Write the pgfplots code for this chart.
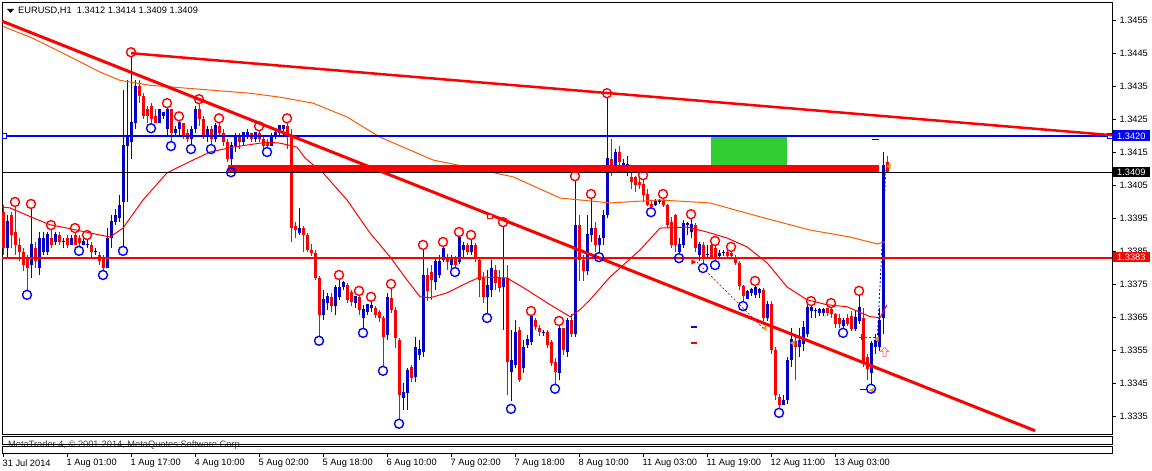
\documentclass[border=0pt]{standalone}
\usepackage{pgfplots}
\pgfplotsset{compat=1.18}
\usepackage{pgfplotstable}
\usepackage{fontspec}
\setmainfont{Liberation Sans}
\definecolor{cblue}{RGB}{0,0,200}
\definecolor{lblue}{RGB}{0,0,255}
\definecolor{cred}{RGB}{255,0,0}
\definecolor{maorange}{RGB}{255,90,0}
\definecolor{lgreen}{RGB}{50,205,50}
\definecolor{tri}{RGB}{225,160,40}
\newcommand\fs{\fontsize{9.3}{10}\selectfont}

\pgfplotstableread{
i o h l c
0 1.3397 1.3399 1.3384 1.3386
1 1.3386 1.3396 1.3383 1.3394
2 1.3396 1.3397 1.3386 1.3390
3 1.3391 1.33985 1.3384 1.3387
4 1.3387 1.3389 1.3382 1.3385
5 1.3385 1.3386 1.3379 1.3381
6 1.3383 1.3384 1.33734 1.3380
7 1.3381 1.3398 1.3377 1.3387
8 1.3386 1.3388 1.3380 1.3382
9 1.3380 1.3391 1.3378 1.3389
10 1.3385 1.3391 1.3384 1.3389
11 1.3385 1.3391 1.3384 1.3390
12 1.3389 1.33915 1.3386 1.3387
13 1.3388 1.3391 1.3387 1.3390
14 1.3390 1.3391 1.3387 1.3388
15 1.3388 1.3389 1.3386 1.3388
16 1.3389 1.3390 1.3386 1.3387
17 1.3387 1.3390 1.3387 1.3389
18 1.3390 1.3391 1.3387 1.3387
19 1.3389 1.3390 1.33867 1.33875
20 1.3387 1.3389 1.3387 1.3388
21 1.3387 1.33885 1.3386 1.3387
22 1.3387 1.3388 1.3383 1.3385
23 1.3385 1.3386 1.3384 1.3385
24 1.3384 1.3385 1.3381 1.3382
25 1.3383 1.3384 1.33794 1.3380
26 1.3380 1.3392 1.3380 1.3389
27 1.3389 1.3396 1.3386 1.3394
28 1.3394 1.3398 1.3393 1.3396
29 1.3395 1.3402 1.3394 1.3399
30 1.3400 1.3434 1.33867 1.3417
31 1.3417 1.3437 1.3400 1.3420
32 1.3418 1.34438 1.3413 1.3424
33 1.3424 1.3437 1.3422 1.3435
34 1.3435 1.3437 1.3430 1.3432
35 1.3432 1.3433 1.3425 1.3426
36 1.3428 1.3429 1.3424 1.3426
37 1.3429 1.3430 1.34238 1.3425
38 1.3426 1.3428 1.3424 1.3424
39 1.3424 1.3428 1.3424 1.3428
40 1.3426 1.3427 1.3425 1.3427
41 1.3422 1.34283 1.3420 1.3428
42 1.3428 1.3428 1.34184 1.3421
43 1.3421 1.3423 1.3420 1.3422
44 1.3422 1.34244 1.3420 1.3424
45 1.3424 1.3424 1.3419 1.3420
46 1.3421 1.3422 1.3418 1.3419
47 1.3419 1.3423 1.34175 1.3422
48 1.3422 1.3429 1.3421 1.3428
49 1.3428 1.34296 1.3423 1.3425
50 1.3425 1.3426 1.3419 1.3420
51 1.3420 1.3423 1.3418 1.3422
52 1.3422 1.3423 1.34175 1.3419
53 1.3419 1.3424 1.3418 1.3423
54 1.3423 1.34238 1.3420 1.3421
55 1.3421 1.3422 1.3417 1.3418
56 1.3418 1.3419 1.3412 1.3413
57 1.3413 1.3418 1.34105 1.3417
58 1.3417 1.3421 1.3415 1.3420
59 1.3420 1.3421 1.3416 1.3418
60 1.3418 1.3421 1.3417 1.3421
61 1.3420 1.3422 1.3419 1.3421
62 1.3421 1.3421 1.3418 1.3419
63 1.3419 1.3421 1.3418 1.3421
64 1.3421 1.34214 1.3418 1.3419
65 1.3419 1.3420 1.3416 1.3417
66 1.3418 1.3419 1.34166 1.3417
67 1.3417 1.3421 1.3417 1.3420
68 1.3420 1.3422 1.3419 1.3421
69 1.3421 1.3423 1.3420 1.3423
70 1.3422 1.3423 1.3420 1.3423
71 1.3423 1.34238 1.3416 1.3420
72 1.3420 1.3422 1.3388 1.3392
73 1.33926 1.33939 1.33890 1.33914
74 1.33905 1.33981 1.33899 1.33920
75 1.33920 1.33926 1.33848 1.33899
76 1.33899 1.33905 1.33848 1.33854
77 1.33854 1.33872 1.33836 1.33845
78 1.33845 1.33854 1.33763 1.33769
79 1.33769 1.33775 1.33594 1.33658
80 1.33658 1.33733 1.33643 1.33703
81 1.33694 1.33724 1.33673 1.33712
82 1.33712 1.33724 1.33667 1.33685
83 1.33685 1.33748 1.33658 1.33742
84 1.33712 1.33764 1.33703 1.33742
85 1.33742 1.33760 1.33733 1.33755
86 1.33748 1.33754 1.33694 1.33703
87 1.33727 1.33733 1.33685 1.33697
88 1.33694 1.33715 1.33679 1.33712
89 1.33712 1.33718 1.33658 1.33673
90 1.33649 1.33688 1.33618 1.33673
91 1.33667 1.33691 1.33658 1.33688
92 1.33679 1.33697 1.33667 1.33685
93 1.33679 1.33685 1.33649 1.33658
94 1.33667 1.33673 1.33637 1.33649
95 1.33649 1.33655 1.33504 1.33591
96 1.33597 1.33724 1.33582 1.33709
97 1.33709 1.33736 1.33664 1.33673
98 1.33673 1.33682 1.33558 1.33588
99 1.33582 1.33588 1.33343 1.33416
100 1.33407 1.33452 1.33370 1.33422
101 1.33422 1.33497 1.33370 1.33491
102 1.33501 1.33507 1.33455 1.33467
103 1.33470 1.33591 1.33455 1.33558
104 1.33537 1.33582 1.33521 1.33552
105 1.33546 1.33854 1.33531 1.33778
106 1.33778 1.33800 1.33700 1.33730
107 1.33788 1.33808 1.33703 1.33763
108 1.33757 1.33830 1.33733 1.33818
109 1.33778 1.33839 1.33769 1.33818
110 1.33824 1.33863 1.33818 1.33860
111 1.33833 1.33842 1.33793 1.33818
112 1.33808 1.33839 1.33799 1.33830
113 1.33830 1.33836 1.33803 1.33808
114 1.33818 1.33894 1.33812 1.33893
115 1.33854 1.33878 1.33830 1.33869
116 1.33869 1.33875 1.33839 1.33848
117 1.33848 1.33884 1.33839 1.33869
118 1.33869 1.33875 1.33818 1.33833
119 1.33824 1.33833 1.33712 1.33763
120 1.33769 1.33788 1.33694 1.33712
121 1.33712 1.33793 1.33664 1.33748
122 1.33733 1.33824 1.33712 1.33799
123 1.33793 1.33808 1.33733 1.33754
124 1.33769 1.33793 1.33727 1.33739
125 1.33742 1.33923 1.33612 1.33769
126 1.33769 1.33808 1.33416 1.33516
127 1.33486 1.33612 1.33397 1.33521
128 1.33507 1.33642 1.33497 1.33606
129 1.33612 1.33621 1.33455 1.33461
130 1.33497 1.33582 1.33482 1.33558
131 1.33567 1.33597 1.33558 1.33582
132 1.33576 1.33655 1.33567 1.33652
133 1.33642 1.33649 1.33612 1.33621
134 1.33618 1.33627 1.33594 1.33606
135 1.33603 1.33612 1.33594 1.33606
136 1.33606 1.33612 1.33558 1.33567
137 1.33576 1.33582 1.33504 1.33513
138 1.33516 1.33528 1.33450 1.33486
139 1.33482 1.33624 1.33461 1.33618
140 1.33618 1.33618 1.33536 1.33551
141 1.33546 1.33650 1.33530 1.33642
142 1.33642 1.33660 1.33590 1.33600
143 1.33600 1.34063 1.33590 1.33929
144 1.33930 1.33960 1.33760 1.33824
145 1.33824 1.33840 1.33760 1.33790
146 1.33790 1.33960 1.33780 1.33900
147 1.33900 1.34008 1.33880 1.33920
148 1.33920 1.33940 1.33850 1.33870
149 1.33870 1.33900 1.33848 1.33890
150 1.33890 1.33975 1.33870 1.33960
151 1.33960 1.34314 1.33950 1.34130
152 1.34130 1.34190 1.34080 1.34100
153 1.34100 1.34160 1.34090 1.34150
154 1.34150 1.34170 1.34110 1.34120
155 1.34110 1.34130 1.34090 1.34115
156 1.34110 1.34140 1.34080 1.34112
157 1.34075 1.34090 1.34040 1.34060
158 1.34075 1.34080 1.34030 1.34050
159 1.34060 1.34070 1.34040 1.34050
160 1.34055 1.34066 1.34000 1.34020
161 1.34025 1.34040 1.33988 1.33990
162 1.33995 1.34005 1.33984 1.33985
163 1.33990 1.34010 1.33988 1.34000
164 1.34000 1.34010 1.33995 1.34005
165 1.34005 1.34008 1.33985 1.33990
166 1.33990 1.33995 1.33920 1.33930
167 1.33940 1.33955 1.33860 1.33870
168 1.33960 1.33965 1.33850 1.33870
169 1.33850 1.33890 1.33845 1.33870
170 1.33870 1.33945 1.33860 1.33935
171 1.33930 1.33940 1.33900 1.33935
172 1.33910 1.33948 1.33890 1.33930
173 1.33930 1.33935 1.33850 1.33860
174 1.33840 1.33880 1.33820 1.33870
175 1.33870 1.33880 1.33815 1.33830
176 1.33840 1.33870 1.33830 1.33842
177 1.33870 1.33880 1.33830 1.33830
178 1.33860 1.33866 1.33824 1.33830
179 1.33835 1.33855 1.33830 1.33845
180 1.33845 1.33855 1.33835 1.33846
181 1.33850 1.33855 1.33830 1.33835
182 1.33845 1.33848 1.33830 1.33835
183 1.33835 1.33840 1.33810 1.33815
184 1.33815 1.33820 1.33735 1.33745
185 1.33745 1.33750 1.33700 1.33715
186 1.33705 1.33735 1.33705 1.33730
187 1.33725 1.33740 1.33715 1.33735
188 1.33720 1.33745 1.33710 1.33740
189 1.33725 1.33740 1.33710 1.33735
190 1.33735 1.33740 1.33640 1.33650
191 1.33650 1.33700 1.33640 1.33690
192 1.33690 1.33700 1.33540 1.33551
193 1.33551 1.33560 1.33400 1.33415
194 1.33410 1.33420 1.33377 1.33385
195 1.33385 1.33415 1.33385 1.33400
196 1.33400 1.33530 1.33390 1.33521
197 1.33521 1.33620 1.33500 1.33582
198 1.33580 1.33600 1.33460 1.33560
199 1.33560 1.33620 1.33530 1.33580
200 1.33570 1.33640 1.33550 1.33620
201 1.33600 1.33690 1.33590 1.33680
202 1.33670 1.33686 1.33650 1.33680
203 1.33670 1.33680 1.33650 1.33672
204 1.33665 1.33680 1.33655 1.33675
205 1.33665 1.33680 1.33655 1.33675
206 1.33678 1.33678 1.33655 1.33665
207 1.33675 1.33679 1.33650 1.33660
208 1.33660 1.33665 1.33620 1.33630
209 1.33650 1.33660 1.33620 1.33630
210 1.33625 1.33650 1.33618 1.33640
211 1.33650 1.33660 1.33625 1.33630
212 1.33655 1.33670 1.33610 1.33615
213 1.33615 1.33670 1.33610 1.33650
214 1.33640 1.33715 1.33630 1.33680
215 1.33650 1.33680 1.33500 1.33515
216 1.33530 1.33540 1.33460 1.33494
217 1.33482 1.33580 1.33450 1.33570
218 1.33560 1.33600 1.33540 1.33580
219 1.33560 1.33680 1.33550 1.33640
220 1.33649 1.34151 1.33600 1.34110
221 1.3412 1.3414 1.3409 1.3409
}\candles

\begin{document}
\begin{tikzpicture}[x=1bp,y=1bp]
\begin{axis}[
  at={(0,0)}, anchor=south west,
  scale only axis, width=1110bp, height=432bp,
  xmin=-0.25, xmax=277.25, ymin=1.33298, ymax=1.34605,
  axis line style={line width=0.8bp},
  xtick=\empty,
  ytick={1.3335,1.3345,1.3355,1.3365,1.3375,1.3385,1.3395,1.3405,1.3415,1.3425,1.3435,1.3445,1.3455},
  ytick pos=right, yticklabel pos=right,
  tick align=outside, major tick length=4bp,
  tick style={line width=0.8bp, black},
  yticklabel style={font=\fs, /pgf/number format/.cd, fixed, fixed zerofill, precision=4, assume math mode=true},
  clip mode=individual,
]
% green zone
\fill[lgreen] (axis cs:177,1.34196) rectangle (axis cs:196,1.34107);

% candles: wicks
\addplot[draw=none, mark=none, forget plot, restrict expr to domain={\thisrow{c}-\thisrow{o}}{0:1},
  error bars/.cd, y dir=plus, y explicit, error mark=none, error bar style={line width=1bp, cblue}]
  table[x=i, y=l, y error expr=\thisrow{h}-\thisrow{l}] {\candles};
\addplot[draw=none, mark=none, forget plot, restrict expr to domain={\thisrow{c}-\thisrow{o}}{-1:-0.000001},
  error bars/.cd, y dir=plus, y explicit, error mark=none, error bar style={line width=1bp, cred}]
  table[x=i, y=l, y error expr=\thisrow{h}-\thisrow{l}] {\candles};
% bodies
\addplot[draw=none, mark=none, forget plot, restrict expr to domain={\thisrow{c}-\thisrow{o}}{0:1},
  error bars/.cd, y dir=plus, y explicit, error mark=none, error bar style={line width=3bp, cblue}]
  table[x=i, y=o, y error expr=\thisrow{c}-\thisrow{o}+0.00002] {\candles};
\addplot[draw=none, mark=none, forget plot, restrict expr to domain={\thisrow{c}-\thisrow{o}}{-1:-0.000001},
  error bars/.cd, y dir=plus, y explicit, error mark=none, error bar style={line width=3bp, cred}]
  table[x=i, y=c, y error expr=\thisrow{o}-\thisrow{c}] {\candles};

% moving averages
\addplot[maorange, line width=1bp, mark=none] coordinates {
(0,1.34531)(7.5,1.34495)(16,1.34444)(24.25,1.34393)(29.25,1.34368)(36.75,1.34353)(49.25,1.34341)(61.75,1.34329)(69.25,1.34317)(77.5,1.34299)(86,1.34257)(94.25,1.34196)(101.75,1.34157)(107.5,1.34127)(113.5,1.34112)(127.5,1.34076)(139.25,1.34012)(151.75,1.33997)(164.25,1.34006)(176.75,1.33997)(189.25,1.33955)(201.75,1.33915)(211.75,1.33894)(218.5,1.33873)(220.5,1.33879)};
\addplot[cred, line width=1bp, mark=none] coordinates {
(-0.25,1.33985)(1.75,1.33982)(7.5,1.33952)(11.75,1.33931)(16,1.33921)(24.25,1.33900)(26.75,1.33894)(30,1.33921)(35,1.34006)(41,1.34088)(46,1.34118)(51.75,1.34151)(57.5,1.34166)(66,1.34181)(69.25,1.34178)(73.5,1.34166)(75.5,1.34133)(80,1.34088)(86,1.34006)(91.75,1.33906)(96.75,1.33834)(101,1.33764)(104.25,1.33713)(106.75,1.33710)(111,1.33725)(116,1.33755)(119.25,1.33773)(126,1.33770)(131,1.33734)(136,1.33695)(141.75,1.33653)(144.25,1.33674)(146.75,1.33704)(151.75,1.33773)(159.25,1.33855)(164.25,1.33921)(171,1.33924)(176,1.33909)(181,1.33891)(186,1.33864)(191,1.33816)(196,1.33743)(201,1.33704)(206,1.33689)(211,1.33683)(216.75,1.33653)(219.25,1.33650)(221,1.33689)};

% horizontal levels
\addplot[black, line width=0.8bp] coordinates {(-0.25,1.3409)(277.25,1.3409)};
\fill[cred] (axis cs:56.25,1.34090) rectangle (axis cs:219,1.34112);
\addplot[lblue, line width=2bp] coordinates {(-0.25,1.3420)(277.25,1.3420)};
\addplot[lblue, only marks, mark=square*, mark size=2.2bp, mark options={fill=white, line width=0.8bp}] coordinates {(0.3,1.3420)(276.7,1.3420)};
\addplot[cred, line width=2bp] coordinates {(-0.25,1.3383)(277.25,1.3383)};
% trend lines
\addplot[cred, line width=3bp] coordinates {(-0.25,1.34547)(258,1.33308)};
\addplot[cred, line width=2.5bp] coordinates {(32,1.34450)(277.25,1.34202)};
\addplot[cred, only marks, mark=square*, mark size=2.2bp, mark options={fill=white, line width=0.8bp}] coordinates {(121.75,1.33957)};

% trade history marks
\addplot[cred, line width=0.8bp, dash pattern=on 2bp off 2bp] coordinates {(173.5,1.33818)(190.5,1.33612)};
\addplot[cred, line width=0.8bp, dash pattern=on 2bp off 2bp] coordinates {(214.5,1.33590)(219,1.33590)};
\addplot[lblue, line width=0.8bp, dash pattern=on 2bp off 2bp] coordinates {(218.5,1.33573)(220.75,1.34102)};
\addplot[lblue, line width=1.5bp] coordinates {(172,1.33621)(173.5,1.33621)};
\addplot[cred, line width=1.5bp] coordinates {(172,1.33573)(173.5,1.33573)};
\addplot[cblue, line width=1.2bp] coordinates {(217.25,1.34189)(219,1.34189)};
\addplot[lblue, line width=1bp] coordinates {(214.25,1.33433)(216.25,1.33433)};
\addplot[tri, only marks, mark=triangle*, mark size=2.6bp, mark options={rotate=90}] coordinates {(190.5,1.33618)(197.5,1.33573)(218.5,1.33585)(221.6,1.34108)(217.25,1.33430)};
\addplot[cred, only marks, mark=triangle*, mark size=2.6bp, mark options={rotate=-90}] coordinates {(172.5,1.33818)};
\addplot[cred, only marks, mark=+, mark size=3bp, mark options={line width=1.2bp}] coordinates {(214.75,1.33590)};
\draw[color=cred!50, line width=0.9bp, fill=white, shift={(axis cs:220.4,1.33545)}] (0bp,5bp) -- (4bp,1bp) -- (1.6bp,1bp) -- (1.6bp,-4bp) -- (-1.6bp,-4bp) -- (-1.6bp,1bp) -- (-4bp,1bp) -- cycle;

% fractal circles
\addplot[only marks, mark=o, mark size=4.5bp, mark options={line width=1.4bp, draw=cred}] coordinates {
(3,1.34000)(7,1.33994)(12,1.33930)(18,1.33921)(21,1.33900)(32,1.34453)(41,1.34299)(44,1.34259)(49,1.34311)(54,1.34253)(64,1.34229)(71,1.34253)(84,1.33779)(89,1.33731)(92,1.33713)(97,1.33752)(105,1.33870)(110,1.33879)(114,1.33909)(117,1.33900)(125,1.33939)(132,1.33670)(139,1.33640)(143,1.34078)(147,1.34024)(151,1.34329)(160,1.34081)(165,1.34024)(172,1.33963)(178,1.33882)(182,1.33864)(188,1.33761)(202,1.33700)(207,1.33694)(214,1.33731)};
\addplot[only marks, mark=o, mark size=4.5bp, mark options={line width=1.4bp, draw=lblue}] coordinates {
(6,1.33719)(19,1.33852)(25,1.33779)(30,1.33852)(37,1.34223)(42,1.34169)(47,1.34160)(52,1.34160)(57,1.34090)(66,1.34151)(79,1.33580)(90,1.33604)(95,1.33489)(99,1.33329)(113,1.33788)(121,1.33649)(127,1.33374)(138,1.33435)(149,1.33833)(162,1.33969)(169,1.33830)(175,1.33800)(178,1.33809)(185,1.33685)(194,1.33362)(210,1.33604)(217,1.33435)};
\end{axis}

% price boxes
\fill[lblue] (1111,{434-141}) rectangle (1148,{434-130.5});
\node[anchor=west, inner sep=0, text=white, font=\fs] at (1115,{434-136}) {1.3420};
\fill[black] (1111,{434-177}) rectangle (1148,{434-167});
\node[anchor=west, inner sep=0, text=white, font=\fs] at (1115,{434-172}) {1.3409};
\fill[cred] (1111,{434-262}) rectangle (1148,{434-252});
\node[anchor=west, inner sep=0, text=white, font=\fs] at (1115,{434-257}) {1.3383};

% title
\fill[black] (5,{434-9}) -- (12,{434-9}) -- (8.5,{434-13}) -- cycle;
\node[anchor=west, inner sep=0, font=\fs] at (16,{434-11}) {EURUSD,H1\ \ 1.3412 1.3414 1.3409 1.3409};

% sub windows
\node[anchor=west, inner sep=0, font=\fs, text=black!75] at (6,{434-445.5}) {MetaTrader 4, © 2001-2014, MetaQuotes Software Corp.};
\draw[line width=0.8bp] (0,{434-436.7}) rectangle (1110,{434-444.3});
\draw[line width=0.8bp] (0,{434-446.7}) rectangle (1110,{434-453.3});
% date axis
\foreach \X/\L in {3/31 Jul 2014,67/1 Aug 01:00,131/1 Aug 17:00,195/4 Aug 10:00,259/5 Aug 02:00,323/5 Aug 18:00,387/6 Aug 10:00,451/7 Aug 02:00,515/7 Aug 18:00,579/8 Aug 10:00,643/11 Aug 03:00,707/11 Aug 19:00,771/12 Aug 11:00,835/13 Aug 03:00}{
  \draw[line width=0.8bp] ({\X-2},{434-453.3}) -- ({\X-2},{434-457});
  \node[anchor=west, inner sep=0, font=\fs] at ({\X-2.5},{434-463}) {\L};
}
\pgfresetboundingbox
\useasboundingbox (-2,-37) rectangle (1150,434);
\end{tikzpicture}
\end{document}
